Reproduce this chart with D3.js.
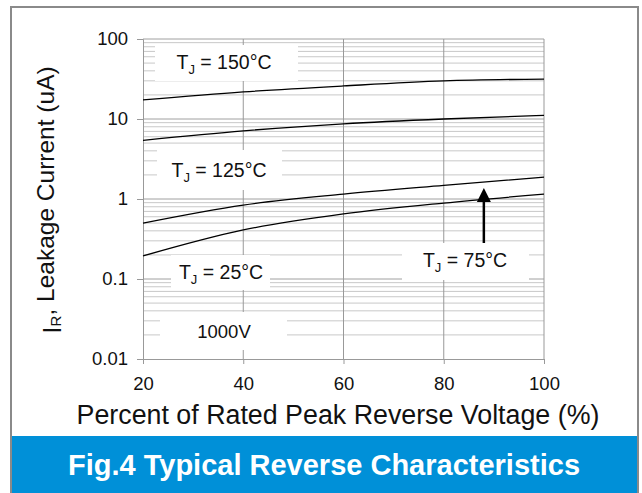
<!DOCTYPE html>
<html>
<head>
<meta charset="utf-8">
<script src="https://cdn.jsdelivr.net/npm/d3@7"></script>
<style>
  body { margin: 0; background: #fff; }
  text { font-family: "Liberation Sans", Arial, sans-serif; fill: #111; }
</style>
</head>
<body>
<div id="chart"></div>
<script>
// data
const xVals = [20, 40, 60, 80, 100];
const t150 = [17.3, 21.8, 25.9, 29.9, 31.6];
const t125 = [5.4, 7.1, 8.7, 10.0, 11.1];
const t75 = [0.5, 0.84, 1.15, 1.48, 1.88];
const t25 = [0.194, 0.41, 0.65, 0.89, 1.15];
const xTicks = [20, 40, 60, 80, 100];
const yTicks = [0.01, 0.1, 1, 10, 100];
const yTickLabels = ["0.01", "0.1", "1", "10", "100"];

const width = 642, height = 493;
const svg = d3.select("#chart").append("svg").attr("width", width).attr("height", height);

// outer frame
svg.append("rect").attr("x", 11).attr("y", 7).attr("width", 627).attr("height", 490)
  .attr("fill", "#fff").attr("stroke", "#8a8a8a").attr("stroke-width", 2);

const x = d3.scaleLinear().domain([20, 100]).range([143, 544]);
const y = d3.scaleLog().domain([0.01, 100]).range([359, 39]);

// grid
const grid = svg.append("g");
const minor = [];
for (let e = -2; e < 2; e++) for (let m = 2; m <= 9; m++) minor.push(m * Math.pow(10, e));
grid.selectAll(".minor").data(minor).enter().append("line")
  .attr("x1", x(20)).attr("x2", x(100))
  .attr("y1", d => y(d)).attr("y2", d => y(d))
  .attr("stroke", "#c8c8c8").attr("stroke-width", 1);
grid.selectAll(".major").data(yTicks.slice(1)).enter().append("line")
  .attr("x1", x(20)).attr("x2", x(100))
  .attr("y1", d => y(d)).attr("y2", d => y(d))
  .attr("stroke", "#a0a0a0").attr("stroke-width", 1);
grid.selectAll(".vert").data(xTicks.slice(1)).enter().append("line")
  .attr("x1", d => x(d)).attr("x2", d => x(d))
  .attr("y1", y(0.01)).attr("y2", y(100))
  .attr("stroke", "#999").attr("stroke-width", 1);

// white label boxes that hide the grid
const boxes = [
  [155, 45, 143, 36],
  [157, 150, 125, 40],
  [171, 255, 99, 35],
  [160, 312, 127, 38],
  [402, 243, 127, 37]
];
svg.append("g").selectAll("rect").data(boxes).enter().append("rect")
  .attr("x", d => d[0]).attr("y", d => d[1]).attr("width", d => d[2]).attr("height", d => d[3])
  .attr("fill", "#fff");

// axes
const yAxis = svg.append("g").attr("transform", `translate(${x(20)},0)`)
  .call(d3.axisLeft(y).tickValues(yTicks).tickFormat((d, i) => yTickLabels[i]).tickSize(6).tickPadding(9));
const xAxis = svg.append("g").attr("transform", `translate(0,${y(0.01)})`)
  .call(d3.axisBottom(x).tickValues(xTicks).tickSize(5).tickPadding(13));
[xAxis, yAxis].forEach(a => {
  a.select(".domain").attr("stroke", "#999");
  a.selectAll(".tick line").attr("stroke", "#999");
  a.selectAll("text").style("font-size", "18.5px").style("fill", "#111")
    .style("font-family", "'Liberation Sans', Arial, sans-serif");
});

// curves
const series = [t150, t125, t75, t25];
const line = d3.line().x((d, i) => x(xVals[i])).y(d => y(d)).curve(d3.curveMonotoneX);
svg.append("g").selectAll("path").data(series).enter().append("path")
  .attr("d", line).attr("fill", "none").attr("stroke", "#000").attr("stroke-width", 1.3);

// arrow for 75°C
const ax = x(88);
svg.append("line").attr("x1", ax).attr("x2", ax).attr("y1", 243).attr("y2", 200)
  .attr("stroke", "#000").attr("stroke-width", 2.5);
svg.append("path").attr("d", `M${ax},188 L${ax - 7},202 L${ax + 7},202 Z`).attr("fill", "#000");

// curve labels
function tjLabel(cx, cy, val) {
  const t = svg.append("text").attr("x", cx).attr("y", cy).attr("text-anchor", "middle")
    .style("font-size", "19.5px");
  t.append("tspan").text("T");
  t.append("tspan").text("J").attr("dy", 5).style("font-size", "13px");
  t.append("tspan").text(" = " + val + "°C").attr("dy", -5);
}
tjLabel(224, 69, "150");
tjLabel(219, 177, "125");
tjLabel(221, 279, "25");
tjLabel(465, 267, "75");
svg.append("text").attr("x", 224).attr("y", 338).attr("text-anchor", "middle")
  .style("font-size", "18.5px").text("1000V");

// axis titles
svg.append("text").attr("x", 338).attr("y", 424).attr("text-anchor", "middle")
  .style("font-size", "26.8px").text("Percent of Rated Peak Reverse Voltage (%)");
const yt = svg.append("text").attr("transform", "translate(54,200) rotate(-90)")
  .attr("text-anchor", "middle").style("font-size", "24.5px");
yt.append("tspan").text("I").attr("dy", 7).style("font-size", "26px");
yt.append("tspan").text("R").style("font-size", "15px");
yt.append("tspan").text(", Leakage Current (uA)").attr("dy", -7);

// banner
svg.append("rect").attr("x", 12).attr("y", 436).attr("width", 625).attr("height", 57).attr("fill", "#0090d8");
svg.append("text").attr("x", 324).attr("y", 475).attr("text-anchor", "middle")
  .style("font-family", "'Liberation Sans Narrow', 'Arial Narrow', 'Liberation Sans', sans-serif")
  .style("font-weight", "bold").style("font-size", "29px").style("fill", "#fff")
  .text("Fig.4 Typical Reverse Characteristics");
</script>
</body>
</html>
